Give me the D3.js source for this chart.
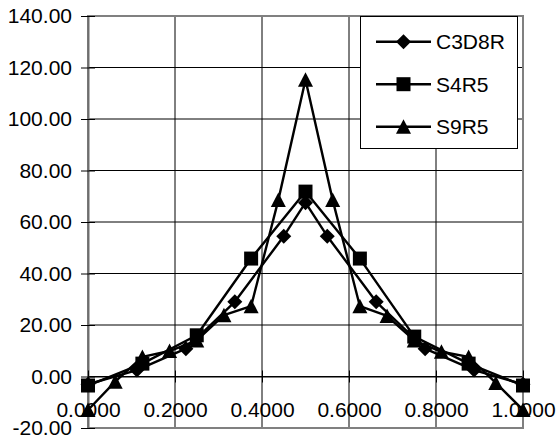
<!DOCTYPE html>
<html>
<head>
<meta charset="utf-8">
<script src="https://cdn.jsdelivr.net/npm/d3@7"></script>
<style>
  html, body { margin: 0; padding: 0; background: #fff; }
  svg { display: block; font-family: "Liberation Sans", Arial, sans-serif; }
</style>
</head>
<body>
<svg id="chart" width="558" height="444"></svg>
<script>
// Normalised position along the member
const xC3D8R = [0, 0.1125, 0.225, 0.3375, 0.45, 0.5, 0.55, 0.6625, 0.775, 0.8875, 1.0];
const yC3D8R = [-3.0, 2.5, 10.8, 29.0, 54.5, 67.5, 54.5, 29.0, 10.8, 2.5, -3.0];

const xS4R5 = [0, 0.125, 0.25, 0.375, 0.5, 0.625, 0.75, 0.875, 1.0];
const yS4R5 = [-3.5, 5.0, 16.0, 45.8, 71.8, 45.8, 15.5, 5.0, -3.5];

const xS9R5 = [0, 0.0625, 0.125, 0.1875, 0.25, 0.3125, 0.375, 0.4375, 0.5,
               0.5625, 0.625, 0.6875, 0.75, 0.8125, 0.875, 0.9375, 1.0];
const yS9R5 = [-13.0, -2.0, 7.6, 9.9, 14.0, 23.8, 27.3, 68.5, 115.2,
               68.5, 27.3, 23.5, 14.0, 9.6, 7.6, -2.5, -13.0];

const seriesNames = ["C3D8R", "S4R5", "S9R5"];
const xTicks = [0, 0.2, 0.4, 0.6, 0.8, 1.0];
const yTicks = [-20, 0, 20, 40, 60, 80, 100, 120, 140];

const series = [
  { name: seriesNames[0], xs: xC3D8R, ys: yC3D8R, symbol: "diamond" },
  { name: seriesNames[1], xs: xS4R5, ys: yS4R5, symbol: "square" },
  { name: seriesNames[2], xs: xS9R5, ys: yS9R5, symbol: "triangle" }
];

const svg = d3.select("#chart");
const plotLeft = 88, plotRight = 523, plotTop = 16, plotBottom = 428;

const x = d3.scaleLinear().domain([0, 1]).range([plotLeft, plotRight]);
const y = d3.scaleLinear().domain([-20, 140]).range([plotBottom, plotTop]);

const fmtX = d3.format(".4f");
const fmtY = v => d3.format(".2f")(v).replace("\u2212", "-");

// marker path centred on 0,0
function markerPath(kind) {
  if (kind === "diamond") return "M0,-7.5L7.5,0L0,7.5L-7.5,0Z";
  if (kind === "square") return "M-7,-7H7V7H-7Z";
  return "M0,-7.5L7.5,7L-7.5,7Z";
}

// horizontal gridlines
svg.append("g").selectAll("line").data(yTicks).join("line")
  .attr("x1", plotLeft).attr("x2", plotRight)
  .attr("y1", d => y(d)).attr("y2", d => y(d))
  .attr("stroke", "#000").attr("stroke-width", 1);

// vertical gridlines
svg.append("g").selectAll("line").data(xTicks).join("line")
  .attr("x1", d => x(d)).attr("x2", d => x(d))
  .attr("y1", plotTop).attr("y2", plotBottom)
  .attr("stroke", "#000").attr("stroke-width", 1);

// plot area frame
svg.append("rect")
  .attr("x", plotLeft).attr("y", plotTop)
  .attr("width", plotRight - plotLeft).attr("height", plotBottom - plotTop)
  .attr("fill", "none").attr("stroke", "#808080").attr("stroke-width", 2);

// y axis on the left edge
const yAxis = d3.axisLeft(y).tickValues(yTicks).tickFormat(fmtY)
  .tickSizeInner(7).tickSizeOuter(0).tickPadding(9);
const gy = svg.append("g").attr("transform", `translate(${plotLeft},0)`).call(yAxis);
gy.select(".domain").attr("stroke", "#6e6e6e").attr("stroke-width", 2);
gy.selectAll(".tick line").clone().attr("x2", 7);
gy.selectAll(".tick line").attr("stroke", "#000");
gy.selectAll("text").attr("font-size", 21).attr("fill", "#000")
  .attr("font-family", "Liberation Sans, Arial, sans-serif");

// x axis crossing at zero
const xAxis = d3.axisBottom(x).tickValues(xTicks).tickFormat(fmtX)
  .tickSizeInner(6).tickSizeOuter(0).tickPadding(20);
const gx = svg.append("g").attr("transform", `translate(0,${y(0)})`).call(xAxis);
gx.select(".domain").attr("stroke", "#000").attr("stroke-width", 1);
gx.selectAll(".tick line").clone().attr("y2", -6);
gx.selectAll(".tick line").attr("stroke", "#000");
gx.selectAll("text").attr("font-size", 21).attr("fill", "#000")
  .attr("font-family", "Liberation Sans, Arial, sans-serif");

// series lines and markers
const line = d3.line().x(d => x(d[0])).y(d => y(d[1]));
series.forEach(s => {
  const pts = s.xs.map((v, i) => [v, s.ys[i]]);
  svg.append("path").datum(pts)
    .attr("d", line).attr("fill", "none")
    .attr("stroke", "#000").attr("stroke-width", 2.4)
    .attr("stroke-linejoin", "round");
  svg.append("g").selectAll("path").data(pts).join("path")
    .attr("transform", d => `translate(${x(d[0])},${y(d[1])})`)
    .attr("d", markerPath(s.symbol)).attr("fill", "#000");
});

// legend
const lg = svg.append("g");
lg.append("rect").attr("x", 360.5).attr("y", 16.5).attr("width", 157).attr("height", 132)
  .attr("fill", "#fff").attr("stroke", "#000").attr("stroke-width", 1);
series.forEach((s, i) => {
  const cy = 41.7 + i * 42.5;
  lg.append("line").attr("x1", 376).attr("x2", 431).attr("y1", cy).attr("y2", cy)
    .attr("stroke", "#000").attr("stroke-width", 2.4);
  lg.append("path").attr("transform", `translate(403.5,${cy})`)
    .attr("d", markerPath(s.symbol)).attr("fill", "#000");
  lg.append("text").attr("x", 436).attr("y", cy).attr("dy", "0.36em")
    .attr("font-size", 21).attr("fill", "#000").text(s.name);
});
</script>
</body>
</html>
